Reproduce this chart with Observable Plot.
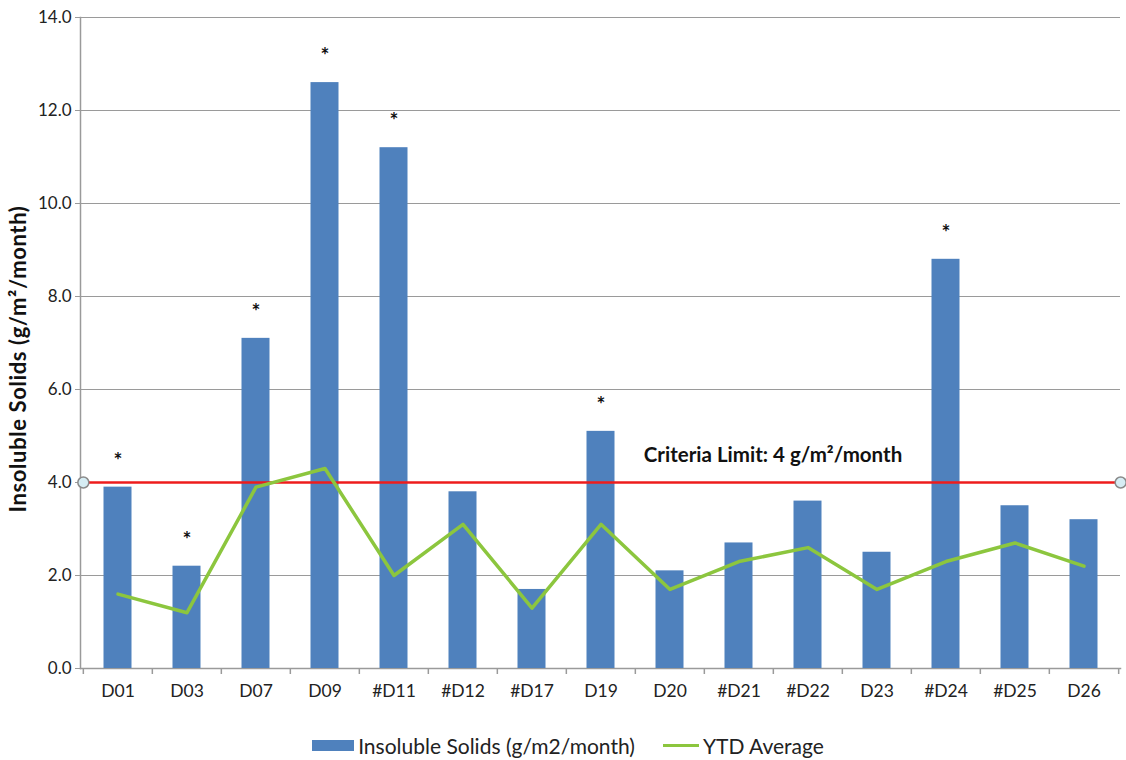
<!DOCTYPE html>
<html>
<head>
<meta charset="utf-8">
<script src="https://cdn.jsdelivr.net/npm/d3@7"></script>
<script src="https://cdn.jsdelivr.net/npm/@observablehq/plot@0.6"></script>
<style>
  html, body { margin: 0; padding: 0; background: #fff; }
  body { width: 1126px; height: 760px; overflow: hidden; font-family: Lato, "Open Sans", sans-serif; }
  #legend { display: flex; justify-content: center; align-items: center; gap: 28px; margin-top: 21px; font-size: 21px; color: #222; padding-left: 10px; }
  .item { display: flex; align-items: center; gap: 4px; }
  .swatch-bar { width: 42px; height: 11px; background: #4f81bd; }
  .swatch-line { width: 36px; height: 3px; background: #8cc63e; }
</style>
</head>
<body>
<div id="chart"></div>
<div id="legend">
  <div class="item"><span class="swatch-bar"></span><span>Insoluble Solids (g/m2/month)</span></div>
  <div class="item"><span class="swatch-line"></span><span>YTD Average</span></div>
</div>
<script>
const sites = ["D01","D03","D07","D09","#D11","#D12","#D17","D19","D20","#D21","#D22","D23","#D24","#D25","D26"];
const solids = [3.9, 2.2, 7.1, 12.6, 11.2, 3.8, 1.7, 5.1, 2.1, 2.7, 3.6, 2.5, 8.8, 3.5, 3.2];
const ytdAverage = [1.6, 1.2, 3.9, 4.3, 2.0, 3.1, 1.3, 3.1, 1.7, 2.3, 2.6, 1.7, 2.3, 2.7, 2.2];
const exceeds = [true, true, true, true, true, false, false, true, false, false, false, false, true, false, false];
const criteriaLimit = 4;
const criteriaLabel = "Criteria Limit: 4 g/m\u00b2/month";
const criteriaLabelSite = "#D22";
const yTicks = [0, 2, 4, 6, 8, 10, 12, 14];

const data = sites.map((s, i) => ({site: s, value: solids[i], ytd: ytdAverage[i], flag: exceeds[i]}));

const width = 1126, height = 712;
const marginLeft = 80, marginRight = 6, marginTop = 17, marginBottom = 44;
const step = (width - marginLeft - marginRight) / sites.length;
const grey = "#9a9a9a";

const chart = Plot.plot({
  width, height, marginLeft, marginRight, marginTop, marginBottom,
  style: {fontFamily: "Lato, 'Open Sans', sans-serif", fontSize: "17px", color: "#222", background: "#fff"},
  x: {domain: sites, padding: 0, label: null},
  y: {domain: [0, 14], label: null},
  marks: [
    Plot.gridY(yTicks, {stroke: grey, strokeOpacity: 1, strokeWidth: 1.2}),
    Plot.axisY(yTicks, {tickFormat: d3.format(".1f"), tickSize: 5, tickPadding: 4, stroke: grey, fontSize: 17,
      label: "Insoluble Solids (g/m\u00b2/month)", labelAnchor: "center", labelArrow: "none", labelOffset: 70}),
    Plot.frame({anchor: "left", stroke: grey, strokeWidth: 1.5}),
    Plot.frame({anchor: "bottom", stroke: grey, strokeWidth: 1.5}),
    Plot.axisX({tickSize: 6, dx: -step / 2, tickFormat: () => "", stroke: grey, strokeWidth: 1.5}),
    Plot.axisX([sites[sites.length - 1]], {tickSize: 6, dx: step / 2, tickFormat: () => "", stroke: grey, strokeWidth: 1.5}),
    Plot.axisX({tickSize: 0, tickPadding: 16, fontSize: 17.5}),
    Plot.barY(data, {x: "site", y: "value", fill: "#4f81bd", insetLeft: 20.5, insetRight: 20.5}),
    Plot.text(data.filter(d => d.flag), {x: "site", y: "value", text: () => "*", dy: -26, fontSize: 21, fontWeight: "bold", fill: "#111"}),
    Plot.ruleY([criteriaLimit], {stroke: "#ee1c1c", strokeWidth: 2.5}),
    Plot.dot([sites[0]], {x: d => d, y: () => criteriaLimit, dx: -step / 2, r: 5.5, fill: "#d6edf4", stroke: "#8a8a8a", strokeWidth: 1.5}),
    Plot.dot([sites[sites.length - 1]], {x: d => d, y: () => criteriaLimit, dx: step / 2 + 2, r: 5.5, fill: "#d6edf4", stroke: "#8a8a8a", strokeWidth: 1.5}),
    Plot.lineY(data, {x: "site", y: "ytd", stroke: "#8cc63e", strokeWidth: 3.5}),
    Plot.text([criteriaLabel], {x: () => criteriaLabelSite, y: () => criteriaLimit, text: d => d, dy: -27, dx: -35, fontSize: 20.5, fontWeight: "bold", fill: "#111"})
  ]
});
d3.select(chart).selectAll("[aria-label='y-axis label'] text").each(function() {
  const t = d3.select(this);
  t.attr("font-weight", "bold").attr("font-size", 22).attr("letter-spacing", "0.6px").attr("fill", "#111")
   .attr("transform", (t.attr("transform") || "") + " translate(-16,0)");
});
document.getElementById("chart").appendChild(chart);
</script>
</body>
</html>
